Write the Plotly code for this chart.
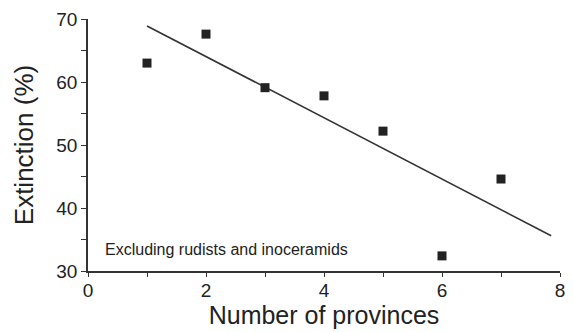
import plotly.graph_objects as go

provinces = [1, 2, 3, 4, 5, 6, 7]
extinction = [63.0, 67.6, 59.1, 57.8, 52.2, 32.4, 44.6]
fit_x = [1.0, 7.85]
fit_y = [68.9, 35.6]
x_ticks = [0, 2, 4, 6, 8]
y_ticks = [30, 40, 50, 60, 70]

fig = go.Figure()
fig.add_trace(go.Scatter(x=fit_x, y=fit_y, mode="lines",
                         line=dict(color="#333333", width=1.6), showlegend=False))
fig.add_trace(go.Scatter(x=provinces, y=extinction, mode="markers",
                         marker=dict(symbol="square", size=9, color="#222222"),
                         showlegend=False))

font = "Liberation Sans, Arial, sans-serif"
fig.add_annotation(x=0.25, y=33.4, text="Excluding rudists and inoceramids",
                   showarrow=False, xanchor="left", yanchor="middle",
                   font=dict(family=font, size=16, color="#222222"))

fig.update_xaxes(range=[0, 8], tickvals=x_ticks, ticks="outside", ticklen=4,
                 tickwidth=1.3, tickcolor="#333333", ticklabelstandoff=-3,
                 minor=dict(dtick=1, ticks="outside", ticklen=4, tickcolor="#333333", tickwidth=1.3),
                 showline=True, linecolor="#333333", linewidth=1.5,
                 showgrid=False, zeroline=False,
                 tickfont=dict(family=font, size=19, color="#222222"),
                 title=dict(text="Number of provinces", standoff=6,
                            font=dict(family=font, size=25, color="#222222")))
fig.update_yaxes(range=[30, 70], tickvals=y_ticks, ticks="outside", ticklen=5,
                 tickwidth=1.3, tickcolor="#333333",
                 minor=dict(dtick=5, ticks="outside", ticklen=5, tickcolor="#333333", tickwidth=1.3),
                 showline=True, linecolor="#333333", linewidth=1.5,
                 showgrid=False, zeroline=False,
                 tickfont=dict(family=font, size=19, color="#222222"),
                 title=dict(text="Extinction (%)", standoff=15,
                            font=dict(family=font, size=26, color="#222222")))

fig.update_layout(width=573, height=332, margin=dict(l=88, r=8, t=19, b=60),
                  plot_bgcolor="white", paper_bgcolor="white")
fig.write_html("out.html")
